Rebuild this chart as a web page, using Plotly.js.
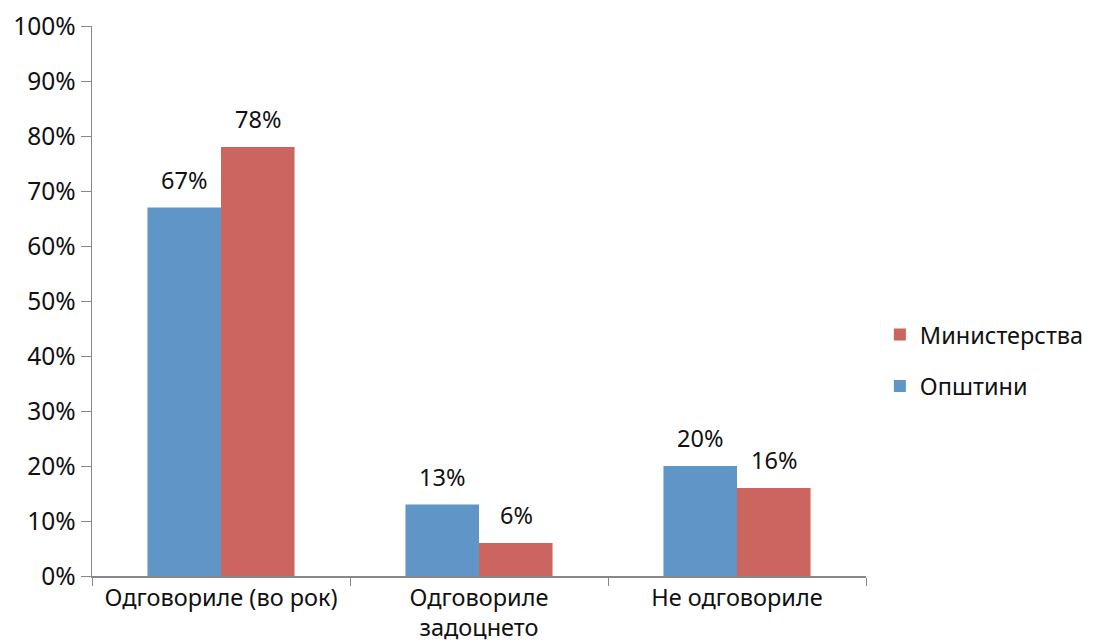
<!DOCTYPE html>
<html><head><meta charset="utf-8">
<script src="https://cdn.plot.ly/plotly-3.0.1.min.js"></script>
<style>body{margin:0;background:#fff}#c{width:1093px;height:644px}</style>
</head><body><div id="c"></div>
<script>
const categories = ["Одговориле (во рок)", "Одговориле<br>задоцнето", "Не одговориле"];
const opstini = [67, 13, 20];
const ministerstva = [78, 6, 16];
const seriesNames = ["Општини", "Министерства"];
const yTicks = [0,10,20,30,40,50,60,70,80,90,100];

const font = {family: "Noto Sans, Open Sans, sans-serif", size: 23.5, color: "#111"};
const traces = [
  {type:"bar", name: seriesNames[0], x: categories, y: opstini, marker:{color:"#5f95c7"},
   legendgroup:"a", legendrank:2, hoverinfo:"none"},
  {type:"bar", name: seriesNames[1], x: categories, y: ministerstva, marker:{color:"#cc645f"},
   legendgroup:"b", legendrank:1, hoverinfo:"none"}
];
const annotations = [];
categories.forEach((c,i)=>{
  annotations.push({x:c, y:opstini[i], xref:"x", yref:"y", text:opstini[i]+"%", showarrow:false, xanchor:"center", yanchor:"bottom", xshift:-37, yshift:10, font:font});
  annotations.push({x:c, y:ministerstva[i], xref:"x", yref:"y", text:ministerstva[i]+"%", showarrow:false, xanchor:"center", yanchor:"bottom", xshift:37, yshift:10, font:font});
});
const layout = {
  width:1093, height:644,
  margin:{l:92, r:227, t:26, b:68},
  font: font,
  barmode:"group", bargap:0.43, bargroupgap:0,
  showlegend:true,
  legend:{xref:"container", yref:"container", x:0.805, xanchor:"left", y:0.44, yanchor:"middle", traceorder:"grouped", tracegroupgap:18, font:font},
  annotations: annotations,
  xaxis:{type:"category", tickson:"boundaries", ticks:"outside", ticklen:8, tickcolor:"#888", showline:true, linecolor:"#888", linewidth:1.5, showgrid:false, tickfont:font, automargin:false},
  yaxis:{range:[0,100], tickvals:yTicks, ticktext:yTicks.map(v=>v+"%"), ticks:"outside", ticklen:10, tickcolor:"#888", showline:true, linecolor:"#888", linewidth:1.5, showgrid:false, zeroline:false, tickfont:{family:font.family, size:24.5, color:font.color}, automargin:false},
  plot_bgcolor:"#fff", paper_bgcolor:"#fff"
};
Plotly.newPlot("c", traces, layout, {displayModeBar:false, staticPlot:true});
</script></body></html>
